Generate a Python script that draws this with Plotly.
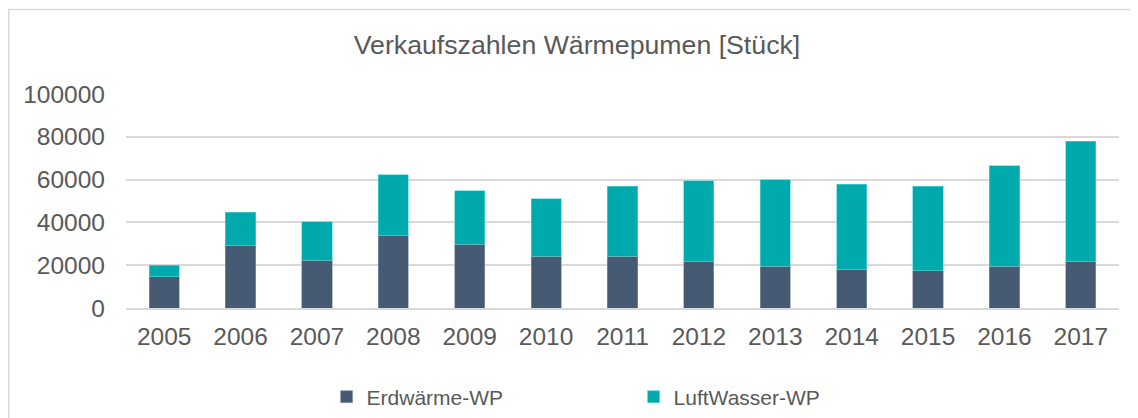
import plotly.graph_objects as go

years = ["2005", "2006", "2007", "2008", "2009", "2010", "2011", "2012", "2013", "2014", "2015", "2016", "2017"]
erdwaerme = [14500, 29000, 22300, 34100, 29900, 24300, 24200, 21700, 19600, 18200, 17300, 19600, 21800]
totals = [20000, 44700, 40400, 62300, 54700, 51100, 56900, 59500, 60000, 57900, 56900, 66500, 78000]
luftwasser = [t - e for t, e in zip(totals, erdwaerme)]

title_text = "Verkaufszahlen Wärmepumen [Stück]"
ytick_vals = [0, 20000, 40000, 60000, 80000, 100000]
ytick_text = ["0", "20000", "40000", "60000", "80000", "100000"]

C_DARK = "#475A74"
C_TEAL = "#00A9AC"
C_TEXT = "#595959"
C_GRID = "#D9D9D9"
FONT = "Liberation Sans, Arial, sans-serif"

# page offset (body margin) is 8px, so figure coordinates = page coordinates - 8
ML, MT, PW, PH = 118, 86, 993, 214

fig = go.Figure()
fig.add_trace(go.Bar(x=years, y=erdwaerme, name="Erdwärme-WP",
                     marker=dict(color=C_DARK, line=dict(color="#8A98AA", width=0.6))))
fig.add_trace(go.Bar(x=years, y=luftwasser, name="LuftWasser-WP",
                     marker=dict(color=C_TEAL, line=dict(color="#5FD6D8", width=0.6))))

fig.update_layout(
    width=1138, height=418,
    barmode="stack", bargap=0.605,
    paper_bgcolor="white", plot_bgcolor="white",
    margin=dict(l=ML, r=1138 - ML - PW, t=MT, b=418 - MT - PH, autoexpand=False),
    font=dict(family=FONT, color=C_TEXT, size=24.5),
    title=dict(text=title_text, x=0.5, xref="container", xanchor="center",
               y=1 - 37 / 418, yref="container", yanchor="middle",
               font=dict(family=FONT, size=26.7, color=C_TEXT)),
    legend=dict(orientation="h", x=0.202, xanchor="left",
                y=1 - 389 / 418, yref="container", yanchor="middle",
                font=dict(family=FONT, size=21, color=C_TEXT),
                entrywidth=262, entrywidthmode="pixels", traceorder="normal"),
    showlegend=True,
)
fig.update_xaxes(showgrid=False, showline=True, linecolor=C_GRID, linewidth=2,
                 tickfont=dict(size=24.5, color=C_TEXT), ticks="", ticklabelstandoff=6,
                 automargin=False)
fig.update_yaxes(range=[0, 100000], tickvals=ytick_vals, ticktext=ytick_text,
                 showgrid=True, gridcolor=C_GRID, gridwidth=1.5, zeroline=False,
                 showline=False, tickfont=dict(size=24.5, color=C_TEXT), ticks="",
                 ticklabelstandoff=20, automargin=False)

fig.add_shape(type="rect", xref="paper", yref="paper",
              x0=(0.8 - ML) / PW, x1=1.2, y0=-1.0, y1=(MT + PH - 1.5) / PH,
              line=dict(color=C_GRID, width=1.5), fillcolor="rgba(0,0,0,0)", layer="below")

fig.write_html("out.html")
